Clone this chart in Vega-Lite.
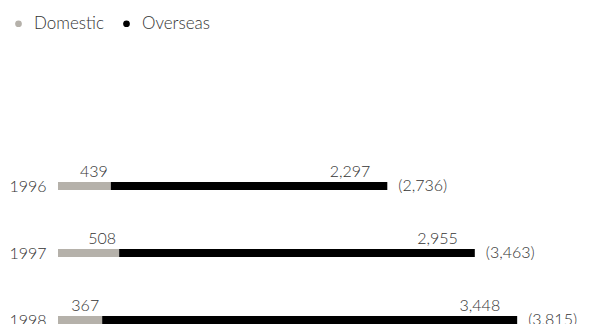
{
  "$schema": "https://vega.github.io/schema/vega-lite/v6.json",
  "autosize": "none",
  "padding": {"left": 58, "top": 0, "right": 0, "bottom": 0},
  "width": 535,
  "height": 324,
  "view": {"stroke": null},
  "config": {
    "font": "Lato",
    "text": {"font": "Lato", "fontWeight": 300, "fontSize": 16, "color": "#333333"},
    "axis": {"labelFont": "Lato", "labelFontWeight": 300},
    "legend": {"labelFont": "Lato", "labelFontWeight": 300}
  },
  "data": {
    "values": [
      {"year": "1996", "segment": "Domestic", "value": 439},
      {"year": "1996", "segment": "Overseas", "value": 2297},
      {"year": "1997", "segment": "Domestic", "value": 508},
      {"year": "1997", "segment": "Overseas", "value": 2955},
      {"year": "1998", "segment": "Domestic", "value": 367},
      {"year": "1998", "segment": "Overseas", "value": 3448}
    ]
  },
  "transform": [
    {"joinaggregate": [{"op": "sum", "field": "value", "as": "total"}], "groupby": ["year"]}
  ],
  "encoding": {
    "y": {
      "field": "year",
      "type": "ordinal",
      "scale": {"type": "point", "range": [186, 320], "padding": 0},
      "axis": {
        "title": null,
        "domain": false,
        "ticks": false,
        "labelPadding": 12,
        "labelFontSize": 16,
        "labelColor": "#333333"
      }
    }
  },
  "layer": [
    {
      "mark": {"type": "bar", "size": 8},
      "encoding": {
        "x": {
          "field": "value",
          "type": "quantitative",
          "aggregate": "sum",
          "stack": "zero",
          "scale": {"domain": [0, 4445], "nice": false},
          "axis": null
        },
        "color": {
          "field": "segment",
          "type": "nominal",
          "scale": {"domain": ["Domestic", "Overseas"], "range": ["#b5b1aa", "#000000"]},
          "legend": {
            "title": null,
            "orient": "none",
            "direction": "horizontal",
            "legendX": -48,
            "legendY": 15,
            "padding": 0,
            "symbolType": "circle",
            "symbolSize": 45,
            "symbolStrokeWidth": 0,
            "labelFontSize": 17,
            "labelColor": "#333333",
            "labelOffset": 7,
            "columnPadding": 14
          }
        }
      }
    },
    {
      "transform": [{"filter": "datum.segment === 'Domestic'"}],
      "mark": {"type": "text", "align": "right", "baseline": "alphabetic", "dx": -3, "dy": -9},
      "encoding": {
        "x": {"field": "value", "type": "quantitative"},
        "text": {"field": "value", "type": "quantitative", "format": ","}
      }
    },
    {
      "transform": [{"filter": "datum.segment === 'Overseas'"}],
      "mark": {"type": "text", "align": "right", "baseline": "alphabetic", "dx": -17, "dy": -9},
      "encoding": {
        "x": {"field": "total", "type": "quantitative"},
        "text": {"field": "value", "type": "quantitative", "format": ","}
      }
    },
    {
      "transform": [
        {"filter": "datum.segment === 'Overseas'"},
        {"calculate": "'(' + format(datum.total, ',') + ')'", "as": "totalLabel"}
      ],
      "mark": {"type": "text", "align": "left", "baseline": "middle", "dx": 11, "dy": 0},
      "encoding": {
        "x": {"field": "total", "type": "quantitative"},
        "text": {"field": "totalLabel", "type": "nominal"}
      }
    }
  ]
}
